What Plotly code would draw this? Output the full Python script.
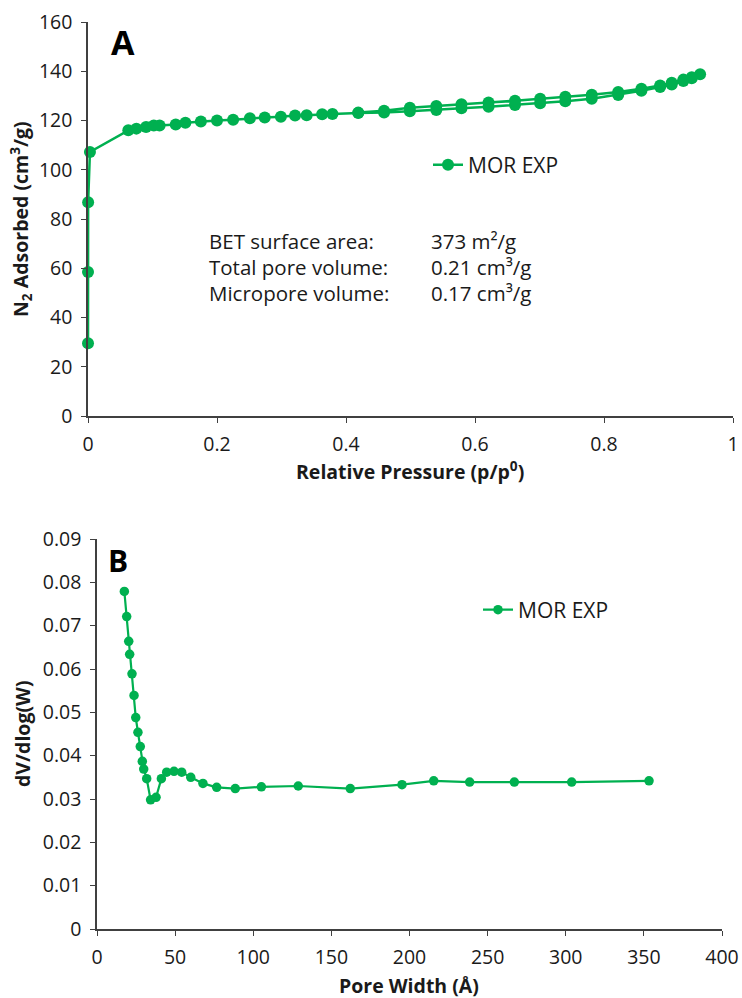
import plotly.graph_objects as go

# ---- N2 isotherm (panel A) ----
p_ads = [0.00001, 0.00005, 0.0002, 0.003, 0.0625, 0.075, 0.090, 0.102, 0.111, 0.136,
         0.151, 0.175, 0.200, 0.225, 0.251, 0.274, 0.299, 0.321, 0.339, 0.363,
         0.379, 0.419, 0.459, 0.499, 0.540, 0.579, 0.621, 0.662, 0.701, 0.740,
         0.781, 0.822, 0.858, 0.887, 0.905, 0.923, 0.936, 0.949]
v_ads = [29.5, 58.5, 86.8, 107.2, 116.0, 116.7, 117.4, 118.0, 118.0, 118.4,
         119.1, 119.6, 120.0, 120.3, 120.9, 121.2, 121.5, 122.0, 122.1, 122.5,
         122.6, 123.0, 123.2, 123.8, 124.3, 125.0, 125.6, 126.3, 127.0, 127.8,
         128.8, 130.4, 132.1, 133.6, 134.6, 136.0, 137.2, 138.8]
p_des = [0.936, 0.923, 0.905, 0.887, 0.858, 0.822, 0.781, 0.740, 0.701, 0.662,
         0.621, 0.579, 0.540, 0.499, 0.459, 0.419]
v_des = [137.6, 136.6, 135.3, 134.2, 132.9, 131.6, 130.5, 129.6, 128.8, 128.0,
         127.3, 126.6, 125.9, 125.2, 124.0, 123.2]

# ---- Pore size distribution (panel B) ----
pore_width = [17.5, 19.0, 20.3, 20.9, 22.4, 23.7, 24.8, 26.2, 27.7, 29.0,
              29.9, 31.8, 34.3, 37.8, 41.2, 44.6, 49.3, 54.2, 60.0, 67.8,
              76.6, 88.5, 105.2, 128.8, 162.1, 195.2, 215.5, 238.5, 267.1, 303.8,
              353.3]
dv_dlogw = [0.0779, 0.0721, 0.0664, 0.0634, 0.0589, 0.0539, 0.0488, 0.0454, 0.0421, 0.0387,
            0.0369, 0.0347, 0.0298, 0.0304, 0.0347, 0.0362, 0.0364, 0.0362, 0.0350, 0.0336,
            0.0327, 0.0324, 0.0328, 0.0330, 0.0324, 0.0333, 0.0342, 0.0339, 0.0339, 0.0339,
            0.0342]

# ---- Textural properties ----
prop_labels = ["BET surface area:", "Total pore volume:", "Micropore volume:"]
prop_values = ["373 m²/g", "0.21 cm³/g", "0.17 cm³/g"]

series_name = "MOR EXP"
GREEN = "#00B050"
TEXT = "#1a1a1a"
AXIS = "#404040"
FONT = "Open Sans"

W, H = 742, 998


def fx(px):
    return px / W


def fy(px):
    return 1 - px / H


fig = go.Figure()

fig.add_trace(go.Scatter(
    x=p_ads + p_des, y=v_ads + v_des, mode="lines+markers", name=series_name,
    line=dict(color=GREEN, width=2.5),
    marker=dict(color=GREEN, size=12, line=dict(width=0)),
    cliponaxis=False, xaxis="x", yaxis="y", legend="legend",
))

fig.add_trace(go.Scatter(
    x=pore_width, y=dv_dlogw, mode="lines+markers", name=series_name,
    line=dict(color=GREEN, width=2.2),
    marker=dict(color=GREEN, size=9.5, line=dict(width=0)),
    cliponaxis=False, xaxis="x2", yaxis="y2", legend="legend2",
))

axis_common = dict(
    showline=True, linecolor=AXIS, linewidth=1.5, ticks="outside", ticklen=5,
    tickwidth=1.2, tickcolor=AXIS, showgrid=False, zeroline=False,
    automargin=False, ticklabelstandoff=5,
    tickfont=dict(family=FONT, size=19.5, color=TEXT),
)

fig.update_layout(
    width=W, height=H,
    margin=dict(l=0, r=0, t=0, b=0, autoexpand=False),
    paper_bgcolor="white", plot_bgcolor="white",
    font=dict(family=FONT, color=TEXT),
    xaxis=dict(domain=[fx(88), fx(733)], range=[0, 1], dtick=0.2, anchor="y", **axis_common),
    yaxis=dict(domain=[fy(416), fy(22)], range=[0, 160], dtick=20, anchor="x", **axis_common),
    xaxis2=dict(domain=[fx(97), fx(722)], range=[0, 400], dtick=50, anchor="y2", **axis_common),
    yaxis2=dict(domain=[fy(929), fy(539)], range=[0, 0.09], dtick=0.01, anchor="x2", **axis_common),
    legend=dict(x=fx(428), y=fy(165), xanchor="left", yanchor="middle",
                bgcolor="rgba(0,0,0,0)", font=dict(family=FONT, size=21, color=TEXT)),
    legend2=dict(x=fx(478), y=fy(610), xanchor="left", yanchor="middle",
                 bgcolor="rgba(0,0,0,0)", font=dict(family=FONT, size=21, color=TEXT)),
    showlegend=True,
)


def note(text, x, y, size, color=TEXT, angle=0, xanchor="center"):
    fig.add_annotation(text=text, x=fx(x), y=fy(y), xref="paper", yref="paper",
                       xanchor=xanchor, yanchor="middle", showarrow=False, textangle=angle,
                       font=dict(family=FONT, size=size, color=color))


# Axis titles
note("<b>Relative Pressure (p/p<sup>0</sup>)</b>", 410, 470, 19.5)
note("<b>N<sub>2</sub> Adsorbed (cm<sup>3</sup>/g)</b>", 21, 219, 19.5, angle=-90)
note("<b>Pore Width (Å)</b>", 409, 985, 19.5)
note("<b>dV/dlog(W)</b>", 22, 734, 19.5, angle=-90)

# Panel letters
note("<b>A</b>", 123, 42, 34, color="black")
note("<b>B</b>", 118, 560, 30, color="black")

# Textural properties block
rows_y = [241, 267, 293]
for lab, val, ry in zip(prop_labels, prop_values, rows_y):
    note(lab, 207, ry, 20.5, xanchor="left")
    note(val, 429, ry, 20.5, xanchor="left")

fig.write_html("out.html")
